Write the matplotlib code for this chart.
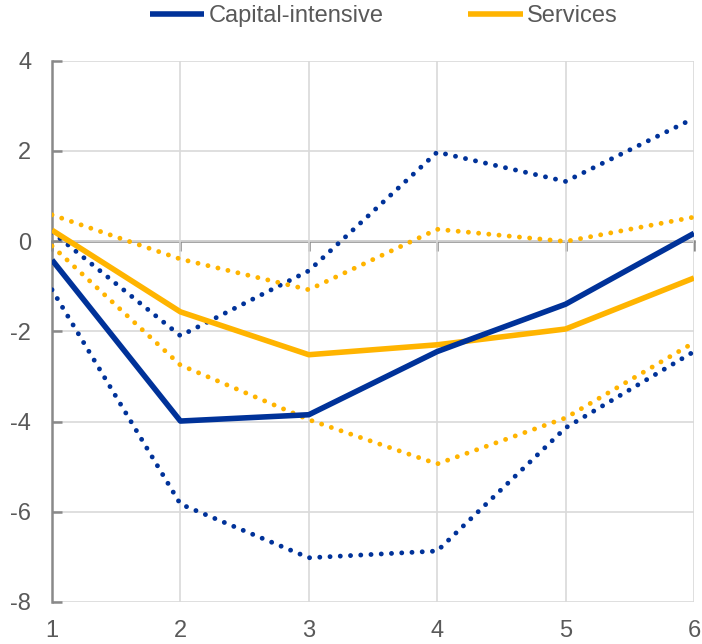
import matplotlib
matplotlib.use('Agg')
import matplotlib.pyplot as plt

# =============================
# DATOS
# =============================
horizonte = [1, 2, 3, 4, 5, 6]

capital_media = [-0.42, -3.99, -3.85, -2.45, -1.40, 0.17]
capital_sup = [0.20, -2.10, -0.66, 1.97, 1.32, 2.72]
capital_inf = [-1.08, -5.83, -7.02, -6.87, -4.14, -2.45]

servicios_media = [0.24, -1.57, -2.52, -2.30, -1.95, -0.82]
servicios_sup = [0.58, -0.40, -1.08, 0.26, -0.01, 0.53]
servicios_inf = [-0.11, -2.75, -3.96, -4.94, -3.92, -2.25]

AZUL = "#003299"
NARANJA = "#FFB400"
GRIS_TEXTO = "#595959"
GRIS_EJE = "#898989"
GRIS_REJILLA = "#d9d9d9"
TAM = 17

plt.rcParams['font.family'] = ['Liberation Sans', 'DejaVu Sans']
plt.rcParams['font.size'] = TAM
plt.rcParams['axes.unicode_minus'] = False

# =============================
# GRAFICO
# =============================
fig = plt.figure(figsize=(7.02, 6.44), dpi=100)
ax = fig.add_axes([52 / 702, 1 - 602 / 644, (694 - 52) / 702, (602 - 60.5) / 644])

punteado = dict(linestyle=(0, (0.01, 2.1)), linewidth=3.5,
                dash_capstyle='round', zorder=3)

ax.plot(horizonte, capital_sup, color=AZUL, **punteado)
ax.plot(horizonte, capital_inf, color=AZUL, **punteado)
ax.plot(horizonte, servicios_sup, color=NARANJA, **punteado)
ax.plot(horizonte, servicios_inf, color=NARANJA, **punteado)
ax.plot(horizonte, servicios_media, color=NARANJA, linewidth=4.0,
        solid_capstyle='butt', label="Services", zorder=4)
ax.plot(horizonte, capital_media, color=AZUL, linewidth=4.0,
        solid_capstyle='butt', label="Capital-intensive", zorder=5)

ax.set_xlim(1, 6)
ax.set_ylim(-8, 4)
ax.set_xticks(horizonte)
ax.set_yticks([-8, -6, -4, -2, 0, 2, 4])

ax.grid(True, color=GRIS_REJILLA, linewidth=1.2, zorder=0)
ax.set_axisbelow(True)

for lado in ['top', 'right', 'bottom']:
    ax.spines[lado].set_visible(False)
ax.spines['left'].set_color(GRIS_EJE)
ax.spines['left'].set_linewidth(1.8)

ax.tick_params(axis='y', direction='in', length=7, width=1.8,
               color=GRIS_EJE, labelcolor=GRIS_TEXTO, pad=15, labelsize=TAM)
ax.tick_params(axis='x', length=0, labelcolor=GRIS_TEXTO, pad=13, labelsize=TAM)

# eje en cero con marcas hacia abajo
eje_cero = ax.secondary_xaxis(8 / 12)
eje_cero.set_xticks(horizonte)
eje_cero.tick_params(direction='in', length=7, width=1.8, color=GRIS_EJE,
                     labelbottom=False, labeltop=False)
for lado in ['top', 'bottom']:
    eje_cero.spines[lado].set_color(GRIS_EJE)
    eje_cero.spines[lado].set_linewidth(1.8)

# leyenda
manejadores, etiquetas = ax.get_legend_handles_labels()
orden = [1, 0]
fig.legend([manejadores[i] for i in orden], [etiquetas[i] for i in orden],
           loc='center left', bbox_to_anchor=(150 / 702, 1 - 16 / 644),
           ncol=2, frameon=False, fontsize=TAM, labelcolor=GRIS_TEXTO,
           handlelength=2.3, handletextpad=0.17, columnspacing=3.6,
           borderpad=0, borderaxespad=0)

fig.savefig("out.png", dpi=100)
